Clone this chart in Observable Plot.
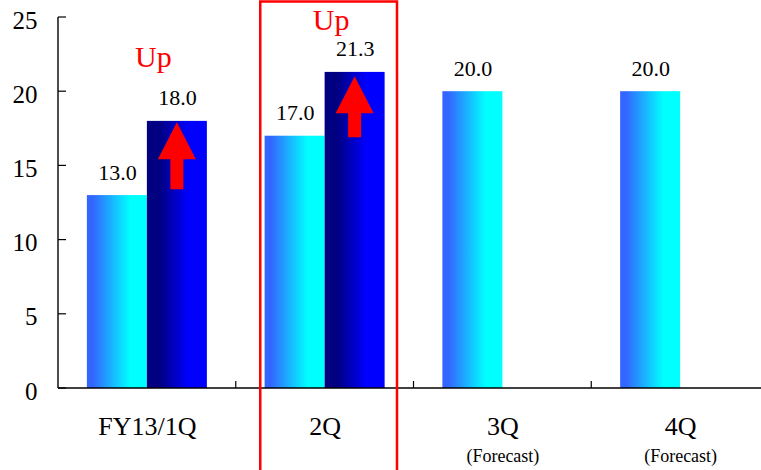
<!DOCTYPE html>
<html>
<head>
<meta charset="utf-8">
<script src="https://cdn.jsdelivr.net/npm/d3@7"></script>
<script src="https://cdn.jsdelivr.net/npm/@observablehq/plot@0.6"></script>
<style>
  html, body { margin: 0; padding: 0; background: #fff; }
  #chart { width: 761px; height: 470px; overflow: hidden; }
  #chart svg, #chart svg text { font-family: 'Liberation Serif', 'Times New Roman', serif !important; }
</style>
</head>
<body>
<div id="chart"></div>
<script>
// ---- data ----
const categories = ["FY13/1Q", "2Q", "3Q", "4Q"];
const prevValues = [13.0, 17.0, 20.0, 20.0];      // light (cyan) bars
const currValues = [18.0, 21.3, null, null];      // dark (blue) bars
const subLabels = ["", "", "(Forecast)", "(Forecast)"];
const yTicks = [0, 5, 10, 15, 20, 25];
const upCategories = ["FY13/1Q", "2Q"];
const upY = [21.65, 24.14];
const arrowCategories = ["FY13/1Q", "2Q"];
const arrowFrom = [13.4, 16.9];
const arrowTo = [17.9, 21.0];
const highlightCategory = "2Q";

// ---- tables ----
const prevData = categories.map((c, i) => ({cat: c, value: prevValues[i]}));
const currData = categories.map((c, i) => ({cat: c, value: currValues[i]})).filter(d => d.value != null);
const labelData = categories.map((c, i) => ({cat: c, sub: subLabels[i]}));
const upData = upCategories.map((c, i) => ({cat: c, y: upY[i]}));
const arrowData = arrowCategories.map((c, i) => ({cat: c, from: arrowFrom[i], to: arrowTo[i]}));

const FONT = "Liberation Serif";
const WIDTH = 761, ML = 58, MR = -8;
const BW = (WIDTH - ML - MR) / categories.length;   // band width
const BAR_W = 60;
const OUTER = (BW - 2 * BAR_W) / 2;

function decorations(index, scales) {
  const x = scales.x, y = scales.y;
  const r0 = x.range()[0], r1 = x.range()[1];
  const bw = x.bandwidth ? x.bandwidth() : (r1 - r0) / categories.length;
  const g = d3.create("svg:g");
  const y0 = y(0);
  // axis lines
  g.append("line").attr("x1", r0).attr("x2", r1).attr("y1", y0).attr("y2", y0)
    .attr("stroke", "#000").attr("stroke-width", 1.4);
  g.append("line").attr("x1", r0).attr("x2", r0).attr("y1", y(25)).attr("y2", y0)
    .attr("stroke", "#000").attr("stroke-width", 1.4);
  // y ticks (inward)
  for (const t of yTicks) {
    g.append("line").attr("x1", r0).attr("x2", r0 + 8).attr("y1", y(t)).attr("y2", y(t))
      .attr("stroke", "#000").attr("stroke-width", 1.2);
  }
  // x ticks at category boundaries (inward)
  for (const c of categories) {
    const xb = x(c) + bw;
    g.append("line").attr("x1", xb).attr("x2", xb).attr("y1", y0).attr("y2", y0 - 7)
      .attr("stroke", "#000").attr("stroke-width", 1.2);
  }
  // red arrows inside dark bars
  for (const a of arrowData) {
    const cx = x(a.cat) + OUTER + BAR_W * 1.5;
    const yt = y(a.to), yb = y(a.from);
    const hh = 37, hw = 19, sw = 6.5;
    g.append("path")
      .attr("d", `M${cx},${yt}L${cx + hw},${yt + hh}L${cx + sw},${yt + hh}L${cx + sw},${yb}L${cx - sw},${yb}L${cx - sw},${yt + hh}L${cx - hw},${yt + hh}Z`)
      .attr("fill", "#ff0000");
  }
  // highlight frame
  const hx = x(highlightCategory);
  g.append("rect").attr("x", hx + 24.5).attr("y", 1.5)
    .attr("width", bw - 24.5 - 16.5).attr("height", 500)
    .attr("fill", "none").attr("stroke", "#ff0000").attr("stroke-width", 2.5);
  return g.node();
}

const chart = Plot.plot({
  width: WIDTH,
  height: 470,
  marginLeft: ML,
  marginRight: MR,
  marginTop: 17,
  marginBottom: 82,
  style: {"font-family": FONT, "background": "#fff", "overflow": "hidden"},
  x: {domain: categories, padding: 0, round: false, axis: null},
  y: {domain: [0, 25], axis: null},
  marks: [
    Plot.barY(prevData, {x: "cat", y: "value", fill: "url(#lightGrad)", insetLeft: OUTER, insetRight: OUTER + BAR_W}),
    Plot.barY(currData, {x: "cat", y: "value", fill: "url(#darkGrad)", insetLeft: OUTER + BAR_W, insetRight: OUTER}),
    decorations,
    // value labels
    Plot.text(prevData, {x: "cat", y: "value", text: d => d.value.toFixed(1), dx: -BAR_W / 2, dy: -16, lineAnchor: "bottom", fontSize: 22, fontFamily: FONT, fill: "#000"}),
    Plot.text(currData, {x: "cat", y: "value", text: d => d.value.toFixed(1), dx: BAR_W / 2, dy: -16, lineAnchor: "bottom", fontSize: 22, fontFamily: FONT, fill: "#000"}),
    // "Up" notes
    Plot.text(upData, {x: "cat", y: "y", text: () => "Up", dx: 6, lineAnchor: "bottom", fontSize: 30, fontFamily: FONT, fill: "#ff0000"}),
    // y tick labels
    Plot.text(yTicks, {y: d => d, text: d => String(d), frameAnchor: "left", dx: -21, dy: 3, textAnchor: "end", fontSize: 25, fontFamily: FONT, fill: "#000"}),
    // category labels
    Plot.text(labelData, {x: "cat", text: "cat", frameAnchor: "bottom", lineAnchor: "bottom", dy: 46.5, fontSize: 26, fontFamily: FONT, fill: "#000"}),
    Plot.text(labelData.filter(d => d.sub), {x: "cat", text: "sub", frameAnchor: "bottom", lineAnchor: "bottom", dy: 73.5, fontSize: 18, fontFamily: FONT, fill: "#000"})
  ]
});
chart.setAttribute("font-family", FONT);

// gradient definitions
const defs = d3.select(chart).insert("defs", ":first-child");
const lg = defs.append("linearGradient").attr("id", "lightGrad").attr("x1", "0").attr("x2", "1").attr("y1", "0").attr("y2", "0");
lg.append("stop").attr("offset", "0").attr("stop-color", "#3366ff");
lg.append("stop").attr("offset", "0.1").attr("stop-color", "#3366ff");
lg.append("stop").attr("offset", "0.72").attr("stop-color", "#00ffff");
lg.append("stop").attr("offset", "1").attr("stop-color", "#00ffff");
const dg = defs.append("linearGradient").attr("id", "darkGrad").attr("x1", "0").attr("x2", "1").attr("y1", "0").attr("y2", "0");
dg.append("stop").attr("offset", "0").attr("stop-color", "#000080");
dg.append("stop").attr("offset", "0.2").attr("stop-color", "#000080");
dg.append("stop").attr("offset", "0.7").attr("stop-color", "#0000ff");
dg.append("stop").attr("offset", "1").attr("stop-color", "#0000ff");

document.getElementById("chart").appendChild(chart);
</script>
</body>
</html>
